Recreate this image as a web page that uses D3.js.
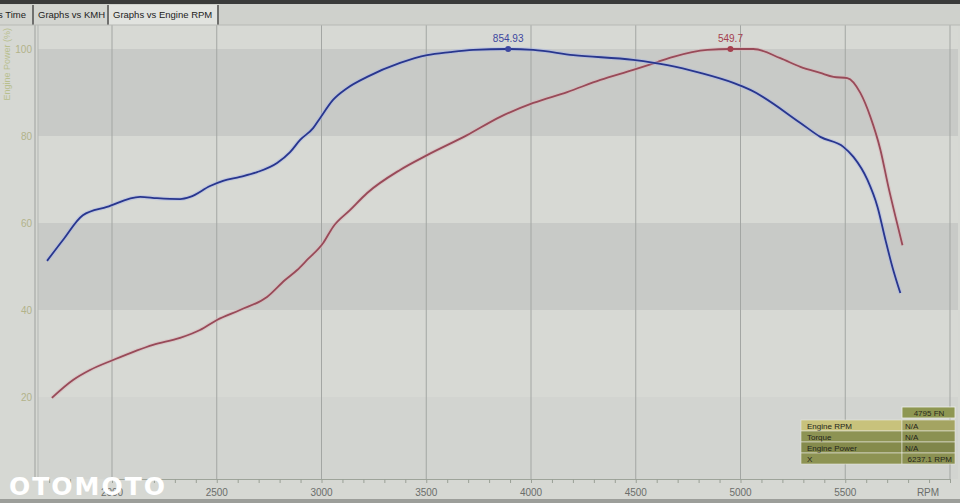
<!DOCTYPE html>
<html>
<head>
<meta charset="utf-8">
<script src="https://cdn.jsdelivr.net/npm/d3@7"></script>
<style>
  html, body { margin: 0; padding: 0; background: #d6d8d3; }
  svg { display: block; }
</style>
</head>
<body>
<div class="dyno"></div>
<script>
// Torque curve (blue), % of peak 854.93
var torqueRpm = [1690, 1766, 1861, 1976, 2134, 2215, 2325, 2373, 2468, 2530, 2611, 2693, 2788, 2850, 2898, 2960, 2993, 3055, 3122, 3218, 3375, 3504, 3614, 3724, 3891, 4011, 4202, 4488, 4651, 4808, 4966, 5047, 5286, 5381, 5491, 5539, 5606, 5654, 5692, 5725, 5763];
var torquePct = [51.3, 56.1, 61.8, 63.7, 66.0, 65.7, 65.5, 66.0, 68.5, 69.7, 70.6, 71.7, 73.8, 76.3, 79.1, 81.8, 84.1, 88.3, 91.0, 93.6, 96.8, 98.6, 99.3, 99.8, 100, 99.8, 98.6, 97.5, 96.3, 94.5, 92.2, 90.6, 83.0, 79.8, 77.5, 75.2, 69.9, 63.7, 56.1, 49.9, 43.9];

// Power curve (red), % of peak 549.7
var powerRpm = [1713, 1814, 1895, 2005, 2196, 2325, 2420, 2501, 2611, 2740, 2826, 2884, 2931, 3008, 3055, 3137, 3218, 3375, 3504, 3695, 3853, 4011, 4173, 4331, 4488, 4603, 4679, 4842, 4952, 5061, 5190, 5286, 5381, 5444, 5510, 5572, 5620, 5668, 5706, 5740, 5773];
var powerPct = [19.8, 23.9, 26.2, 28.5, 32.0, 33.6, 35.4, 37.7, 40.0, 43.0, 46.9, 49.2, 51.5, 55.4, 59.1, 63.0, 66.9, 72.2, 75.6, 80.2, 84.4, 87.6, 90.1, 92.9, 95.2, 97.0, 98.2, 99.8, 100, 100, 97.9, 95.9, 94.5, 93.6, 93.3, 89.9, 84.4, 76.8, 68.3, 61.4, 54.9];

var peaks = [
    { rpm: 3891, pct: 100, label: "854.93", color: "#3d47a0" },
    { rpm: 4952, pct: 100, label: "549.7", color: "#a5404e" }
];

var yTicks = [20, 40, 60, 80, 100];
var xLabels = [2000, 2500, 3000, 3500, 4000, 4500, 5000, 5500];
var tabs = ["s Time", "Graphs vs KMH", "Graphs vs Engine RPM"];
var infoRows = [["Engine RPM", "N/A"], ["Torque", "N/A"], ["Engine Power", "N/A"], ["X", "6237.1 RPM"]];
var infoHeader = "4795 FN";

var width = 960, height = 503;
var plot = { left: 38, right: 958, top: 25, bottom: 479 };

var svg = d3.select("div.dyno")
    .append("svg")
    .attr("width", width)
    .attr("height", height)
    .style("font-family", "'Liberation Sans', Arial, sans-serif");

var x = d3.scaleLinear().domain([2000, 6000]).range([112, 950]);
var y = d3.scaleLinear().domain([0, 100]).range([484, 49]);

// plot background + alternating bands
svg.append("rect")
    .attr("x", plot.left).attr("y", plot.top)
    .attr("width", plot.right - plot.left).attr("height", plot.bottom - plot.top)
    .attr("fill", "#d7d9d4");
var bands = [[80, 100], [40, 60], [0, 20]];
svg.append("g")
    .selectAll("rect")
    .data(bands)
    .join("rect")
      .attr("x", plot.left)
      .attr("width", plot.right - plot.left)
      .attr("y", d => y(d[1]))
      .attr("height", d => Math.min(y(d[0]), plot.bottom) - y(d[1]))
      .attr("fill", d => d[0] === 0 ? "#d2d4d0" : "#c8cac7");

// vertical grid
svg.append("g")
    .selectAll("line")
    .data(d3.range(2000, 6001, 500))
    .join("line")
      .attr("x1", d => x(d)).attr("x2", d => x(d))
      .attr("y1", plot.top).attr("y2", plot.bottom)
      .attr("stroke", "#a3a6a3")
      .attr("stroke-width", 1);

// left axis lines
svg.append("line").attr("x1", 35).attr("x2", 35).attr("y1", plot.top).attr("y2", plot.bottom).attr("stroke", "#9ea19e");
svg.append("line").attr("x1", 38).attr("x2", 38).attr("y1", plot.top).attr("y2", plot.bottom).attr("stroke", "#b4b7b3");

// y tick labels
svg.append("g")
    .selectAll("text")
    .data(yTicks)
    .join("text")
      .attr("x", 32)
      .attr("y", d => y(d))
      .attr("dy", "0.35em")
      .attr("text-anchor", "end")
      .attr("font-size", 10)
      .attr("fill", "#b2b38a")
      .text(d => d);

// y axis title
svg.append("text")
    .attr("transform", "translate(10,28) rotate(-90)")
    .attr("text-anchor", "end")
    .attr("font-size", 9)
    .attr("fill", "#b8bf8e")
    .text("Engine Power (%)");

// curves
var line = d3.line().curve(d3.curveMonotoneX);
function drawCurve(rpms, pcts, color, halo) {
    var pts = rpms.map((r, i) => [x(r), y(pcts[i])]);
    svg.append("path")
        .attr("d", line(pts))
        .attr("fill", "none")
        .attr("stroke", halo)
        .attr("stroke-width", 4)
        .attr("stroke-opacity", 0.5);
    svg.append("path")
        .attr("d", line(pts))
        .attr("fill", "none")
        .attr("stroke", color)
        .attr("stroke-width", 1.8);
}
drawCurve(powerRpm, powerPct, "#984a58", "#d8b4b8");
drawCurve(torqueRpm, torquePct, "#28368e", "#a9b6e6");

// peak markers
var pk = svg.append("g").selectAll("g").data(peaks).join("g");
pk.append("circle")
    .attr("cx", d => x(d.rpm)).attr("cy", d => y(d.pct))
    .attr("r", 3)
    .attr("fill", d => d.color);
pk.append("text")
    .attr("x", d => x(d.rpm))
    .attr("y", d => y(d.pct) - 7)
    .attr("text-anchor", "middle")
    .attr("font-size", 10)
    .attr("fill", d => d.color)
    .text(d => d.label);

// x axis
var xAxis = g => g
    .attr("transform", `translate(0,${plot.bottom})`)
    .call(d3.axisBottom(x).tickValues(d3.range(1700, 6001, 100)).tickSize(4).tickFormat(""))
    .call(g => g.select(".domain").attr("stroke", "#9ea49a"))
    .call(g => g.selectAll(".tick line").attr("stroke", "#9aa096"));
svg.append("g").call(xAxis);
svg.append("g")
    .selectAll("text")
    .data(xLabels)
    .join("text")
      .attr("x", d => x(d))
      .attr("y", 496)
      .attr("text-anchor", "middle")
      .attr("font-size", 10)
      .attr("fill", "#6b6e6b")
      .text(d => d);
svg.append("text")
    .attr("x", 928).attr("y", 496)
    .attr("text-anchor", "middle")
    .attr("font-size", 10)
    .attr("fill", "#6b6e6b")
    .text("RPM");
svg.append("rect").attr("x", 0).attr("y", 499).attr("width", width).attr("height", 4).attr("fill", "#9c9e9a");

// tab bar
svg.append("rect").attr("x", 0).attr("y", 0).attr("width", width).attr("height", 25).attr("fill", "#cfd1cc");
svg.append("rect").attr("x", 0).attr("y", 0).attr("width", width).attr("height", 4).attr("fill", "#3a3b3a");
var tabX = [0, 34, 109, 219];
svg.append("g")
    .selectAll("rect")
    .data(tabs)
    .join("rect")
      .attr("x", (d, i) => tabX[i])
      .attr("y", 5)
      .attr("width", (d, i) => tabX[i + 1] - tabX[i] - 2)
      .attr("height", 20)
      .attr("fill", (d, i) => i === 2 ? "#e1e3df" : "#d3d5d0");
svg.append("g")
    .selectAll("line")
    .data(tabX.slice(1))
    .join("line")
      .attr("x1", d => d - 1).attr("x2", d => d - 1)
      .attr("y1", 5).attr("y2", 25)
      .attr("stroke", "#2f302f")
      .attr("stroke-width", 1.2);
svg.append("g")
    .selectAll("text")
    .data(tabs)
    .join("text")
      .attr("x", (d, i) => tabX[i] + (i === 0 ? -2 : 4))
      .attr("y", 18)
      .attr("font-size", 9.5)
      .attr("fill", "#222")
      .text(d => d);
svg.append("line").attr("x1", 0).attr("x2", width).attr("y1", 25).attr("y2", 25).attr("stroke", "#b7b9b5");

// info table
var tbl = { x: 801, colX: 902, right: 955, top: 420, rowH: 11 };
svg.append("rect")
    .attr("x", tbl.colX).attr("y", 407)
    .attr("width", tbl.right - tbl.colX).attr("height", 11)
    .attr("fill", "#8e9752").attr("stroke", "#eef0e8").attr("stroke-width", 0.8);
svg.append("text")
    .attr("x", tbl.colX + 27).attr("y", 416)
    .attr("text-anchor", "middle")
    .attr("font-size", 8)
    .attr("fill", "#2a2b1c")
    .text(infoHeader);
var rows = svg.append("g").selectAll("g").data(infoRows).join("g")
    .attr("transform", (d, i) => `translate(0,${tbl.top + i * tbl.rowH})`);
rows.append("rect")
    .attr("x", tbl.x).attr("width", tbl.colX - tbl.x).attr("height", tbl.rowH)
    .attr("fill", (d, i) => i === 0 ? "#c8c27c" : (i % 2 ? "#8d9353" : "#858b4c"))
    .attr("stroke", "#e6e8de").attr("stroke-width", 0.6);
rows.append("rect")
    .attr("x", tbl.colX).attr("width", tbl.right - tbl.colX).attr("height", tbl.rowH)
    .attr("fill", (d, i) => i === 0 ? "#a4a462" : (i % 2 ? "#8b9152" : "#80864a"))
    .attr("stroke", "#e6e8de").attr("stroke-width", 0.6);
rows.append("text")
    .attr("x", tbl.x + 6).attr("y", 8.5)
    .attr("font-size", 8)
    .attr("fill", "#24251a")
    .text(d => d[0]);
rows.append("text")
    .attr("x", (d, i) => i === 3 ? tbl.right - 3 : tbl.colX + 3)
    .attr("text-anchor", (d, i) => i === 3 ? "end" : "start")
    .attr("y", 8.5)
    .attr("font-size", 8)
    .attr("fill", "#24251a")
    .text(d => d[1]);

// watermark (sits over the 2000 label, as in the photo)
svg.append("text")
    .attr("x", 9).attr("y", 495)
    .attr("font-family", "'DejaVu Sans', sans-serif")
    .attr("font-weight", "bold")
    .attr("font-size", 25)
    .attr("letter-spacing", 2)
    .attr("fill", "#ffffff")
    .text("OTOMOTO");
</script>
</body>
</html>
